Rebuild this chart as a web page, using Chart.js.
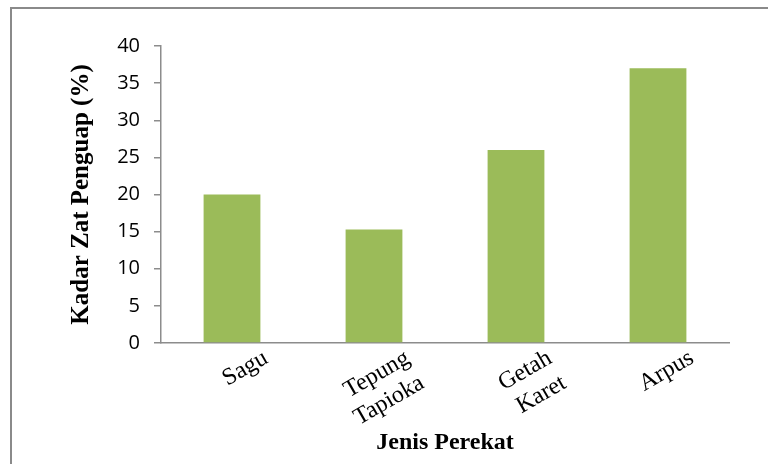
<!DOCTYPE html>
<html>
<head>
<meta charset="utf-8">
<script src="https://cdn.jsdelivr.net/npm/chart.js@4"></script>
<style>
  html, body { margin: 0; padding: 0; background: #fff; }
  canvas { display: block; }
</style>
</head>
<body>
<canvas id="myChart" width="768" height="464"></canvas>
<script>
// Data
const categories = [['Sagu'], ['Tepung', 'Tapioka'], ['Getah', 'Karet'], ['Arpus']];
const kadarZatPenguap = [20, 15.3, 26, 37];
const yTicks = { min: 0, max: 40, step: 5 };

const axisGray = '#8c8c8c';

// frame around the figure, like the Excel border
const framePlugin = {
  id: 'frame',
  afterDraw(chart) {
    const ctx = chart.ctx;
    ctx.save();
    ctx.strokeStyle = '#8a8a8a';
    ctx.lineWidth = 2;
    ctx.strokeRect(11, 8, chart.width + 50, chart.height + 50);
    ctx.restore();
  }
};

const config = {
  type: 'bar',
  data: {
    labels: categories,
    datasets: [{
      label: 'Kadar Zat Penguap',
      data: kadarZatPenguap,
      backgroundColor: '#9bbb59',
      borderWidth: 0,
      categoryPercentage: 1,
      barPercentage: 0.4
    }]
  },
  options: {
    responsive: false,
    animation: false,
    devicePixelRatio: 1,
    layout: {
      padding: { left: 0, right: 39, top: 46, bottom: 0 }
    },
    plugins: {
      legend: { display: false },
      tooltip: { enabled: false }
    },
    scales: {
      x: {
        grid: { drawOnChartArea: false, drawTicks: false },
        border: { display: true, color: axisGray, width: 1.5 },
        ticks: {
          autoSkip: false,
          minRotation: 30,
          maxRotation: 30,
          labelOffset: 34,
          padding: 1,
          color: '#000',
          font: { family: '"Liberation Serif", "Times New Roman", serif', size: 24, lineHeight: 1.2 }
        },
        title: {
          display: true,
          text: 'Jenis Perekat',
          color: '#000',
          padding: { top: 0, bottom: 7 },
          font: { family: '"Liberation Serif", "Times New Roman", serif', size: 24, weight: 'bold' }
        },
        afterFit(scale) { scale.height = 121; }
      },
      y: {
        min: yTicks.min,
        max: yTicks.max,
        grid: { drawOnChartArea: false, drawTicks: true, tickLength: 7, color: axisGray, lineWidth: 1.5 },
        border: { display: true, color: axisGray, width: 1.5 },
        ticks: {
          stepSize: yTicks.step,
          padding: 14,
          color: '#000',
          font: { family: '"Open Sans", sans-serif', size: 20 }
        },
        title: {
          display: true,
          text: 'Kadar Zat Penguap (%)',
          color: '#000',
          padding: { top: 67, bottom: 0 },
          font: { family: '"Liberation Serif", "Times New Roman", serif', size: 25, weight: 'bold' }
        },
        afterFit(scale) { scale.width = 161; }
      }
    }
  },
  plugins: [framePlugin]
};

const ctx = document.getElementById('myChart').getContext('2d');
new Chart(ctx, config);
</script>
</body>
</html>
